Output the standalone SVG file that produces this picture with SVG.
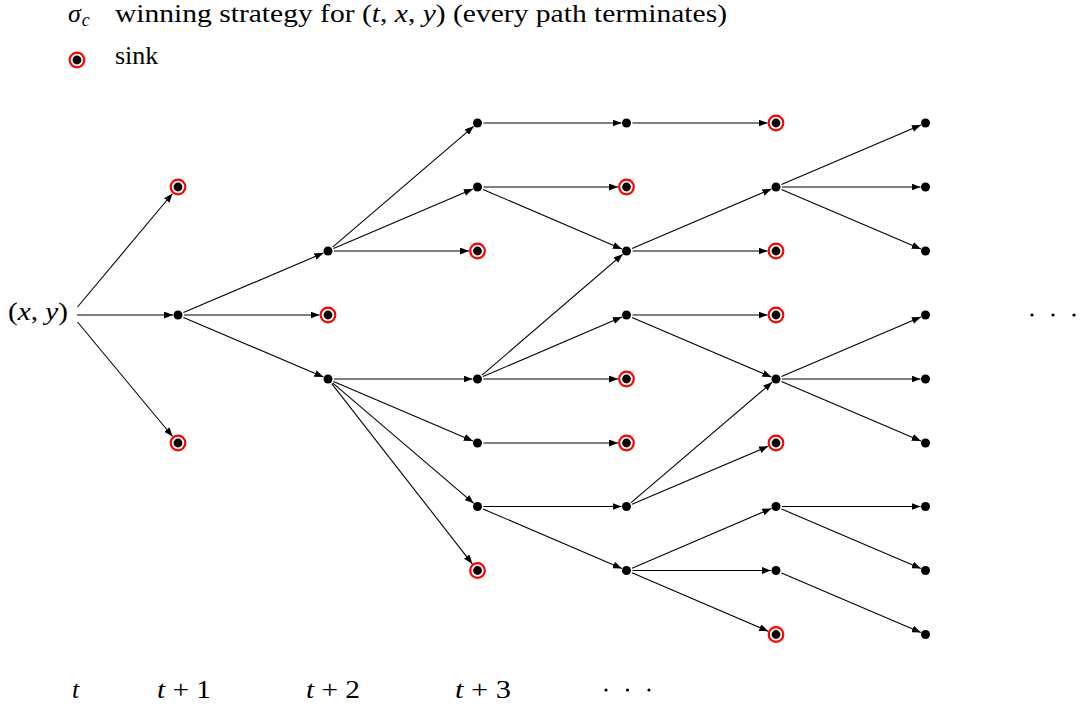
<svg xmlns="http://www.w3.org/2000/svg" width="1081" height="708" viewBox="0 0 1081 708">
  <style>
    .t { font-family: "Liberation Serif", "DejaVu Serif", serif; font-size: 26px; fill: #000; }
    .it { font-style: italic; }
    .e line { stroke: #000; stroke-width: 1.1; marker-end: url(#arr); }
    .dot { fill: #000; }
    .ring { fill: none; stroke: #f00; stroke-width: 2.2; }
  </style>
  <defs>
    <marker id="arr" markerUnits="userSpaceOnUse" markerWidth="9" markerHeight="7" refX="9" refY="3.5" orient="auto">
      <path d="M0,0 L9,3.5 L0,7 z" fill="#000"/>
    </marker>
    <g id="sink">
      <circle class="ring" r="7.3"/>
      <circle class="dot" r="4.4"/>
    </g>
    <circle id="pt" class="dot" r="4.5"/>
  </defs>

  <rect width="1081" height="708" fill="#fff"/>

  <!-- legend -->
  <g id="legend">
    <text class="t" x="68" y="22"><tspan class="it">σ</tspan><tspan font-size="18" class="it" dx="1" dy="4">c</tspan></text>
    <text class="t" x="115" y="22" textLength="612" lengthAdjust="spacingAndGlyphs">winning strategy for (<tspan class="it">t</tspan>, <tspan class="it">x</tspan>, <tspan class="it">y</tspan>) (every path terminates)</text>
    <use href="#sink" x="77" y="60"/>
    <text class="t" x="115" y="64">sink</text>
  </g>

  <!-- connectors -->
  <g id="connectors" class="e">
    <line x1="77.5" y1="307" x2="172.5" y2="193.5"/>
    <line x1="77" y1="315" x2="173" y2="315"/>
    <line x1="77.5" y1="322" x2="172.6" y2="436.5"/>

    <line x1="183.5" y1="312.6" x2="323.4" y2="253"/>
    <line x1="184" y1="315" x2="319.5" y2="315"/>
    <line x1="183.5" y1="317.4" x2="323.4" y2="377"/>

    <line x1="332.6" y1="247.1" x2="473.7" y2="126.3"/>
    <line x1="333.5" y1="248.6" x2="472.9" y2="189"/>
    <line x1="334" y1="251" x2="469" y2="251"/>

    <line x1="334" y1="379" x2="472.5" y2="379"/>
    <line x1="333.5" y1="381.4" x2="472.9" y2="441"/>
    <line x1="332.6" y1="382.9" x2="473.7" y2="503.3"/>
    <line x1="331.7" y1="383.7" x2="472.3" y2="563.8"/>

    <line x1="483.5" y1="123" x2="621.5" y2="123"/>
    <line x1="483.5" y1="187" x2="618" y2="187"/>
    <line x1="483" y1="189.4" x2="621.9" y2="249"/>
    <line x1="482.1" y1="375.1" x2="622.7" y2="254.3"/>
    <line x1="483" y1="376.6" x2="621.9" y2="317"/>
    <line x1="483.5" y1="379" x2="618" y2="379"/>
    <line x1="483.5" y1="443" x2="618" y2="443"/>
    <line x1="483.5" y1="506.5" x2="621.5" y2="506.5"/>
    <line x1="483" y1="508.9" x2="621.9" y2="568.5"/>

    <line x1="632.5" y1="123" x2="767.5" y2="123"/>
    <line x1="632" y1="248.6" x2="771.4" y2="189"/>
    <line x1="632.5" y1="251" x2="767.5" y2="251"/>
    <line x1="632.5" y1="315" x2="767.5" y2="315"/>
    <line x1="632" y1="317.4" x2="771.4" y2="377"/>
    <line x1="631.1" y1="502.6" x2="772.2" y2="382.2"/>
    <line x1="632" y1="504.2" x2="768.2" y2="446.3"/>
    <line x1="632" y1="568.2" x2="771.4" y2="508.5"/>
    <line x1="632.5" y1="570.5" x2="771" y2="570.5"/>
    <line x1="632" y1="572.8" x2="768.2" y2="631.2"/>

    <line x1="781.5" y1="184.6" x2="920.9" y2="125"/>
    <line x1="782" y1="187" x2="920.5" y2="187"/>
    <line x1="781.5" y1="189.4" x2="920.9" y2="249"/>
    <line x1="781.5" y1="376.6" x2="920.9" y2="317"/>
    <line x1="782" y1="379" x2="920.5" y2="379"/>
    <line x1="781.5" y1="381.4" x2="920.9" y2="441"/>
    <line x1="782" y1="506.5" x2="920.5" y2="506.5"/>
    <line x1="781.5" y1="508.9" x2="920.9" y2="568.5"/>
    <line x1="781.5" y1="572.9" x2="920.9" y2="632.5"/>
  </g>

  <!-- root -->
  <g id="root">
    <text class="t" x="8" y="320" textLength="60" lengthAdjust="spacingAndGlyphs">(<tspan class="it">x</tspan>, <tspan class="it">y</tspan>)</text>
  </g>

  <!-- level t+1 -->
  <g id="n1a"><use href="#sink" x="178" y="187"/></g>
  <g id="n1b"><use href="#pt" x="178" y="315"/></g>
  <g id="n1c"><use href="#sink" x="178" y="443"/></g>

  <!-- level t+2 -->
  <g id="n2a"><use href="#pt" x="328" y="251"/></g>
  <g id="n2b"><use href="#sink" x="328" y="315"/></g>
  <g id="n2c"><use href="#pt" x="328" y="379"/></g>

  <!-- level t+3 -->
  <g id="n3a"><use href="#pt" x="477.5" y="123"/></g>
  <g id="n3b"><use href="#pt" x="477.5" y="187"/></g>
  <g id="n3c"><use href="#sink" x="477.5" y="251"/></g>
  <g id="n3d"><use href="#pt" x="477.5" y="379"/></g>
  <g id="n3e"><use href="#pt" x="477.5" y="443"/></g>
  <g id="n3f"><use href="#pt" x="477.5" y="506.5"/></g>
  <g id="n3g"><use href="#sink" x="477.5" y="570.5"/></g>

  <!-- level t+4 -->
  <g id="n4a"><use href="#pt" x="626.5" y="123"/></g>
  <g id="n4b"><use href="#sink" x="626.5" y="187"/></g>
  <g id="n4c"><use href="#pt" x="626.5" y="251"/></g>
  <g id="n4d"><use href="#pt" x="626.5" y="315"/></g>
  <g id="n4e"><use href="#sink" x="626.5" y="379"/></g>
  <g id="n4f"><use href="#sink" x="626.5" y="443"/></g>
  <g id="n4g"><use href="#pt" x="626.5" y="506.5"/></g>
  <g id="n4h"><use href="#pt" x="626.5" y="570.5"/></g>

  <!-- level t+5 -->
  <g id="n5a"><use href="#sink" x="776" y="123"/></g>
  <g id="n5b"><use href="#pt" x="776" y="187"/></g>
  <g id="n5c"><use href="#sink" x="776" y="251"/></g>
  <g id="n5d"><use href="#sink" x="776" y="315"/></g>
  <g id="n5e"><use href="#pt" x="776" y="379"/></g>
  <g id="n5f"><use href="#sink" x="776" y="443"/></g>
  <g id="n5g"><use href="#pt" x="776" y="506.5"/></g>
  <g id="n5h"><use href="#pt" x="776" y="570.5"/></g>
  <g id="n5i"><use href="#sink" x="776" y="634.5"/></g>

  <!-- level t+6 -->
  <g id="n6a"><use href="#pt" x="925.5" y="123"/></g>
  <g id="n6b"><use href="#pt" x="925.5" y="187"/></g>
  <g id="n6c"><use href="#pt" x="925.5" y="251"/></g>
  <g id="n6d"><use href="#pt" x="925.5" y="315"/></g>
  <g id="n6e"><use href="#pt" x="925.5" y="379"/></g>
  <g id="n6f"><use href="#pt" x="925.5" y="443"/></g>
  <g id="n6g"><use href="#pt" x="925.5" y="506.5"/></g>
  <g id="n6h"><use href="#pt" x="925.5" y="570.5"/></g>
  <g id="n6i"><use href="#pt" x="925.5" y="634.5"/></g>

  <!-- continuation dots -->
  <g id="more" class="dot">
    <circle cx="1032" cy="315" r="1.6"/>
    <circle cx="1053" cy="315" r="1.6"/>
    <circle cx="1074" cy="315" r="1.6"/>
  </g>

  <!-- time axis labels -->
  <g id="axis">
    <text class="t it" x="72" y="698">t</text>
    <text class="t" x="157" y="698" textLength="54" lengthAdjust="spacingAndGlyphs"><tspan class="it">t</tspan> + 1</text>
    <text class="t" x="306" y="698" textLength="54" lengthAdjust="spacingAndGlyphs"><tspan class="it">t</tspan> + 2</text>
    <text class="t" x="455" y="698" textLength="56" lengthAdjust="spacingAndGlyphs"><tspan class="it">t</tspan> + 3</text>
    <g class="dot">
      <circle cx="606" cy="690" r="1.6"/>
      <circle cx="627.5" cy="690" r="1.6"/>
      <circle cx="649" cy="690" r="1.6"/>
    </g>
  </g>
</svg>
